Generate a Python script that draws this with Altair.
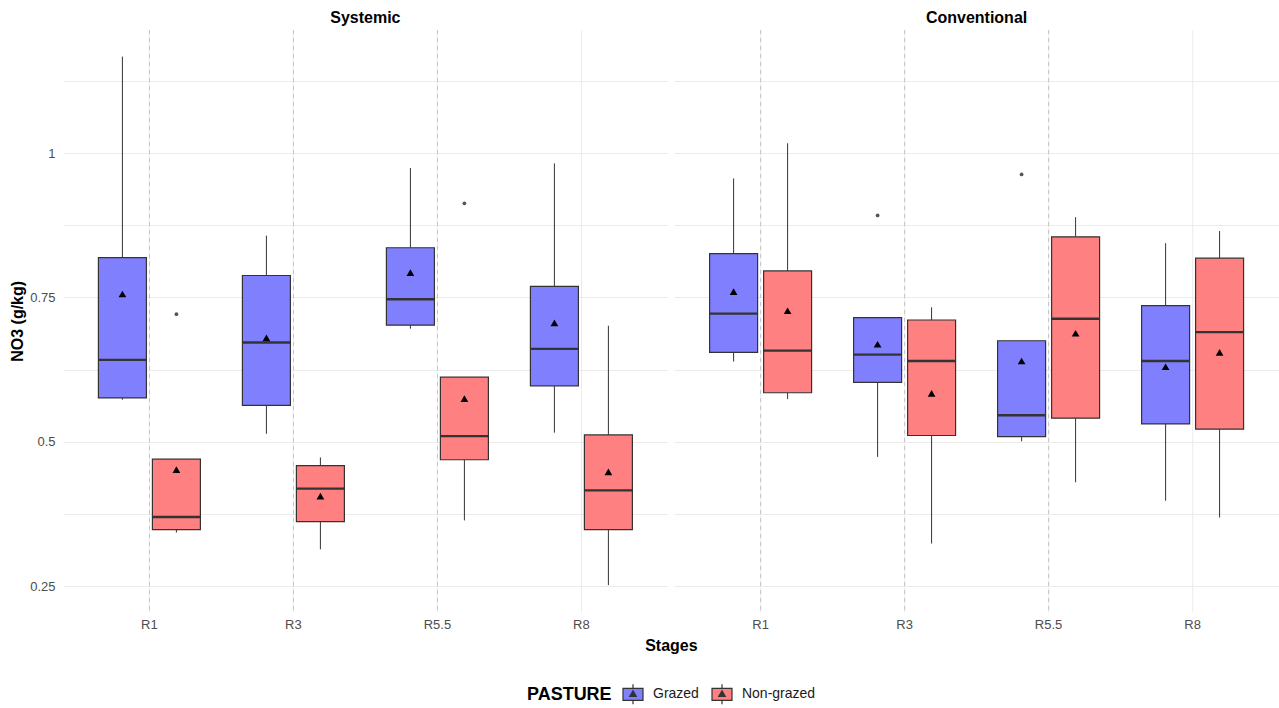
import altair as alt
import pandas as pd

# Factor levels
systems = ["Systemic", "Conventional"]
stages = ["R1", "R3", "R5.5", "R8"]
pastures = ["Grazed", "Non-grazed"]

# Box statistics, ordered system -> stage -> pasture
box_system = ["Systemic"] * 8 + ["Conventional"] * 8
box_stage = ["R1", "R1", "R3", "R3", "R5.5", "R5.5", "R8", "R8"] * 2
box_pasture = ["Grazed", "Non-grazed"] * 8
whisker_low = [0.573, 0.343, 0.514, 0.314, 0.696, 0.364, 0.516, 0.252,
               0.639, 0.574, 0.474, 0.324, 0.501, 0.430, 0.398, 0.369]
quartile_1 = [0.576, 0.348, 0.563, 0.362, 0.702, 0.469, 0.597, 0.348,
              0.655, 0.585, 0.603, 0.511, 0.509, 0.541, 0.531, 0.522]
median = [0.642, 0.370, 0.672, 0.419, 0.747, 0.510, 0.661, 0.416,
          0.722, 0.658, 0.651, 0.640, 0.546, 0.713, 0.640, 0.690]
quartile_3 = [0.819, 0.470, 0.788, 0.459, 0.836, 0.612, 0.769, 0.512,
              0.826, 0.796, 0.715, 0.711, 0.675, 0.855, 0.736, 0.818]
whisker_high = [1.167, 0.470, 0.857, 0.473, 0.974, 0.612, 0.982, 0.701,
                0.956, 1.017, 0.715, 0.733, 0.675, 0.889, 0.844, 0.865]
mean_value = [0.756, 0.452, 0.680, 0.406, 0.793, 0.575, 0.706, 0.448,
              0.760, 0.727, 0.669, 0.584, 0.640, 0.688, 0.630, 0.655]

# Outlying observations
out_system = ["Systemic", "Systemic", "Conventional", "Conventional"]
out_stage = ["R1", "R5.5", "R3", "R5.5"]
out_pasture = ["Non-grazed", "Non-grazed", "Grazed", "Grazed"]
out_value = [0.721, 0.913, 0.892, 0.963]

# Stages marked with a dashed reference line
ref_stages = ["R1", "R3", "R5.5"]

boxes = pd.DataFrame({
    "system": box_system, "stage": box_stage, "pasture": box_pasture,
    "lo": whisker_low, "q1": quartile_1, "med": median,
    "q3": quartile_3, "hi": whisker_high, "mean": mean_value,
})
outliers = pd.DataFrame({
    "system": out_system, "stage": out_stage,
    "pasture": out_pasture, "value": out_value,
})
refs = pd.DataFrame({"stage": ref_stages})

FONT = "Liberation Sans"
GRID = "#EBEBEB"
EDGE = "#333333"
PANEL_W = 604.8

y_scale = alt.Scale(domain=[0.206, 1.213], nice=False, zero=False)
x_scale = alt.Scale(domain=stages, paddingInner=0, paddingOuter=0.1)
off_scale = alt.Scale(domain=pastures, paddingInner=0.111, paddingOuter=0.389)
fill_scale = alt.Scale(domain=pastures, range=["#8080FF", "#FF8080"])

y_values = [0.25, 0.375, 0.5, 0.625, 0.75, 0.875, 1.0, 1.125]

legend_symbol = (
    "M-1,-0.6H1V0.6H-1Z M0,-1V-0.6 M0,0.6V1 "
    "M0,-0.36L-0.33,0.2L0.33,0.2Z M0,-0.2L-0.18,0.1L0.18,0.1Z "
    "M0,-0.06L-0.06,0.04L0.06,0.04Z"
)


def panel(system, first):
    if first:
        y_axis = alt.Axis(
            title="NO3 (g/kg)", values=y_values,
            labelExpr="(datum.value * 4) % 1 == 0 ? format(datum.value, '~g') : ''",
            labelFont=FONT, labelFontSize=13, labelColor="#4D4D4D",
            labelPadding=8, ticks=False, domain=False,
            grid=True, gridColor=GRID, gridWidth=1,
            titleFont=FONT, titleFontSize=16, titleFontWeight="bold",
            titleColor="#000000", titlePadding=4,
        )
        # the shared x title sits centred under both panels
        x_axis = alt.Axis(
            title="Stages", titleX=PANEL_W + 3.1, titleY=39,
            titleAlign="center", titleBaseline="alphabetic",
            titleFont=FONT, titleFontSize=16, titleFontWeight="bold",
            titleColor="#000000",
            labelFont=FONT, labelFontSize=13, labelColor="#4D4D4D",
            labelPadding=7, labelAngle=0, ticks=False, domain=False,
            grid=True, gridColor=GRID, gridWidth=1,
        )
    else:
        y_axis = alt.Axis(
            title=None, values=y_values, labels=False, ticks=False,
            domain=False, grid=True, gridColor=GRID, gridWidth=1,
        )
        x_axis = alt.Axis(
            title=None, labelFont=FONT, labelFontSize=13, labelColor="#4D4D4D",
            labelPadding=7, labelAngle=0, ticks=False, domain=False,
            grid=True, gridColor=GRID, gridWidth=1,
        )
    x_enc = alt.X("stage:N", scale=x_scale, axis=x_axis, sort=stages)
    off_enc = alt.XOffset("pasture:N", scale=off_scale, sort=pastures)

    base = alt.Chart(boxes).transform_filter(alt.datum.system == system)

    vlines = alt.Chart(refs).mark_rule(
        color="#C4C4C4", strokeDash=[4, 4], strokeWidth=1
    ).encode(x=x_enc)

    lower = base.mark_rule(color=EDGE, strokeWidth=1).encode(
        x=x_enc, xOffset=off_enc,
        y=alt.Y("lo:Q", scale=y_scale, axis=y_axis), y2="q1:Q",
    )
    upper = base.mark_rule(color=EDGE, strokeWidth=1).encode(
        x=x_enc, xOffset=off_enc,
        y=alt.Y("q3:Q", scale=y_scale, axis=y_axis), y2="hi:Q",
    )
    box = base.mark_bar(stroke=EDGE, strokeWidth=1.2).encode(
        x=x_enc, xOffset=off_enc,
        y=alt.Y("q1:Q", scale=y_scale, axis=y_axis), y2="q3:Q",
        fill=alt.Fill(
            "pasture:N", scale=fill_scale, sort=pastures,
            legend=alt.Legend(
                title="PASTURE", orient="none", direction="horizontal",
                legendX=464, legendY=653, titleOrient="left",
                titleFont=FONT, titleFontSize=18, titleFontWeight="bold",
                titleColor="#000000", titlePadding=10,
                labelFont=FONT, labelFontSize=14, labelColor="#1A1A1A",
                labelOffset=9, columnPadding=10,
                symbolType=legend_symbol, symbolSize=400,
                symbolStrokeColor=EDGE, symbolStrokeWidth=1.2,
            ),
        ),
    )
    med = base.mark_bar(stroke=EDGE, strokeWidth=2.4, fillOpacity=0).encode(
        x=x_enc, xOffset=off_enc,
        y=alt.Y("med:Q", scale=y_scale, axis=y_axis), y2="med:Q",
    )
    pts = alt.Chart(outliers).transform_filter(
        alt.datum.system == system
    ).mark_circle(color="#555555", size=14, opacity=1).encode(
        x=x_enc, xOffset=off_enc,
        y=alt.Y("value:Q", scale=y_scale, axis=y_axis),
    )
    means = base.mark_point(
        shape="triangle-up", filled=True, color="#000000", size=60, opacity=1
    ).encode(
        x=x_enc, xOffset=off_enc,
        y=alt.Y("mean:Q", scale=y_scale, axis=y_axis),
    )
    return alt.layer(vlines, lower, upper, box, med, pts, means).properties(
        width=PANEL_W, height=581.7,
        title=alt.TitleParams(
            system, font=FONT, fontSize=16, fontWeight="bold",
            color="#000000", anchor="middle", offset=3.7,
        ),
    )


chart = alt.hconcat(
    panel("Systemic", True), panel("Conventional", False),
    spacing=6.2, bounds="flush",
).properties(
    padding={"left": 9, "top": 9, "right": 0, "bottom": 5},
    background="white",
).configure_view(strokeWidth=0)

chart.save("out.html", embed_options={"renderer": "svg", "actions": False})
